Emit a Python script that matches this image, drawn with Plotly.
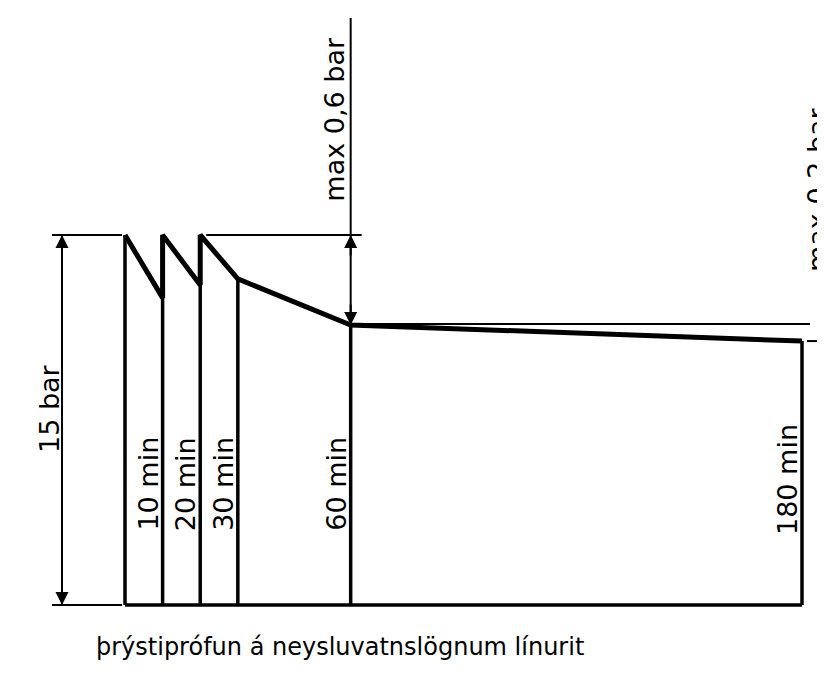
import plotly.graph_objects as go

# ---- data (pressure axis is schematic, in sketch units of bar) ----
times = [0, 10, 20, 30, 60, 180]                       # minutes
time_labels = ["10 min", "20 min", "30 min", "60 min", "180 min"]
curve_time = [0, 10, 10, 20, 20, 30, 60, 180]
curve_pressure = [15, 12.45, 15, 12.97, 15, 13.22, 11.35, 10.70]
test_pressure = 15
p_60 = 11.35
p_180 = 10.70
dim_texts = ["15 bar", "max 0,6 bar", "max 0,2 bar"]
title_text = "þrýstiprófun á neysluvatnslögnum línurit"

# ---- sheet geometry (page has an 8 px body margin; ranges compensate) ----
PX_PER_MIN = 677 / 180
PX_PER_BAR = 370 / 15
OFF = 8
X_RANGE = [-(125 - OFF) / PX_PER_MIN, (825 - 125 + OFF) / PX_PER_MIN]
Y_RANGE = [-(683 - 605 + OFF) / PX_PER_BAR, (605 - OFF) / PX_PER_BAR]


def mins(px):
    return px / PX_PER_MIN


def bars(px):
    return px / PX_PER_BAR


FONT = "DejaVu Sans"
fig = go.Figure()


def line(xs, ys, w):
    fig.add_trace(go.Scatter(x=xs, y=ys, mode="lines",
                             line=dict(color="black", width=w),
                             hoverinfo="skip", showlegend=False))


# pressure curve (thick)
line(curve_time, curve_pressure, 5)


def top_at(t):
    return max(p for tt, p in zip(curve_time, curve_pressure) if tt == t)


# vertical lines at each time mark up to the curve
for t in times:
    line([t, t], [0, top_at(t)], 3.5)

# base line
line([times[0], times[-1]], [0, 0], 3.5)

# left dimension (15 bar)
left_dim_x = times[0] - mins(63)
line([times[0] - mins(73), times[0] - mins(3)], [0, 0], 2)
line([times[0] - mins(73), times[0] - mins(3)], [test_pressure, test_pressure], 2)
line([left_dim_x, left_dim_x], [0, test_pressure], 2)

# dimension at 60 min (max 0,6 bar)
line([60, 60], [p_60, bars(605 - 18)], 2)
line([times[2] + mins(6), 60 + mins(11)], [test_pressure, test_pressure], 2)

# extension lines towards the right dimension (max 0,2 bar)
line([60, 180 + mins(8)], [p_60 + bars(1), p_60 + bars(1)], 2)
line([180 + mins(5), X_RANGE[1]], [p_180, p_180], 2)

# arrowheads
arrow_len = bars(22)
arrows = [
    (left_dim_x, test_pressure, -1),
    (left_dim_x, 0, 1),
    (60, test_pressure, -1),
    (60, p_60, 1),
]
for ax_, ay_, sgn in arrows:
    fig.add_annotation(x=ax_, y=ay_, ax=ax_, ay=ay_ + sgn * arrow_len,
                       xref="x", yref="y", axref="x", ayref="y",
                       text="", showarrow=True, arrowhead=2, arrowsize=1.3,
                       arrowwidth=2, arrowcolor="black", standoff=0, startstandoff=0)

# time labels, rotated, left of each line
for t, lab in zip(times[1:], time_labels):
    fig.add_annotation(x=t, y=bars(605 - (480 if t == 180 else 484)),
                       xref="x", yref="y", text=lab, textangle=-90,
                       showarrow=False, xshift=-15, xanchor="center", yanchor="middle",
                       font=dict(family=FONT, size=27, color="black"))

# dimension labels
fig.add_annotation(x=left_dim_x, y=bars(605 - 409), xref="x", yref="y", text=dim_texts[0],
                   textangle=-90, showarrow=False, xshift=-13,
                   font=dict(family=FONT, size=27, color="black"))
fig.add_annotation(x=60, y=bars(605 - 119), xref="x", yref="y", text=dim_texts[1],
                   textangle=-90, showarrow=False, xshift=-17,
                   font=dict(family=FONT, size=27, color="black"))
fig.add_annotation(x=180 + mins(15), y=bars(605 - 190), xref="x", yref="y", text=dim_texts[2],
                   textangle=-90, showarrow=False,
                   font=dict(family=FONT, size=27, color="black"))

# caption
fig.add_annotation(x=(340 - OFF) / 825, y=1 - (663 - OFF) / 683, xref="paper", yref="paper",
                   text=title_text, showarrow=False,
                   font=dict(family=FONT, size=24, color="black"))

fig.update_layout(
    width=825, height=683,
    margin=dict(l=0, r=0, t=0, b=0),
    paper_bgcolor="white", plot_bgcolor="white",
    xaxis=dict(range=X_RANGE, visible=False, fixedrange=True),
    yaxis=dict(range=Y_RANGE, visible=False, fixedrange=True),
)

fig.write_html("out.html")
